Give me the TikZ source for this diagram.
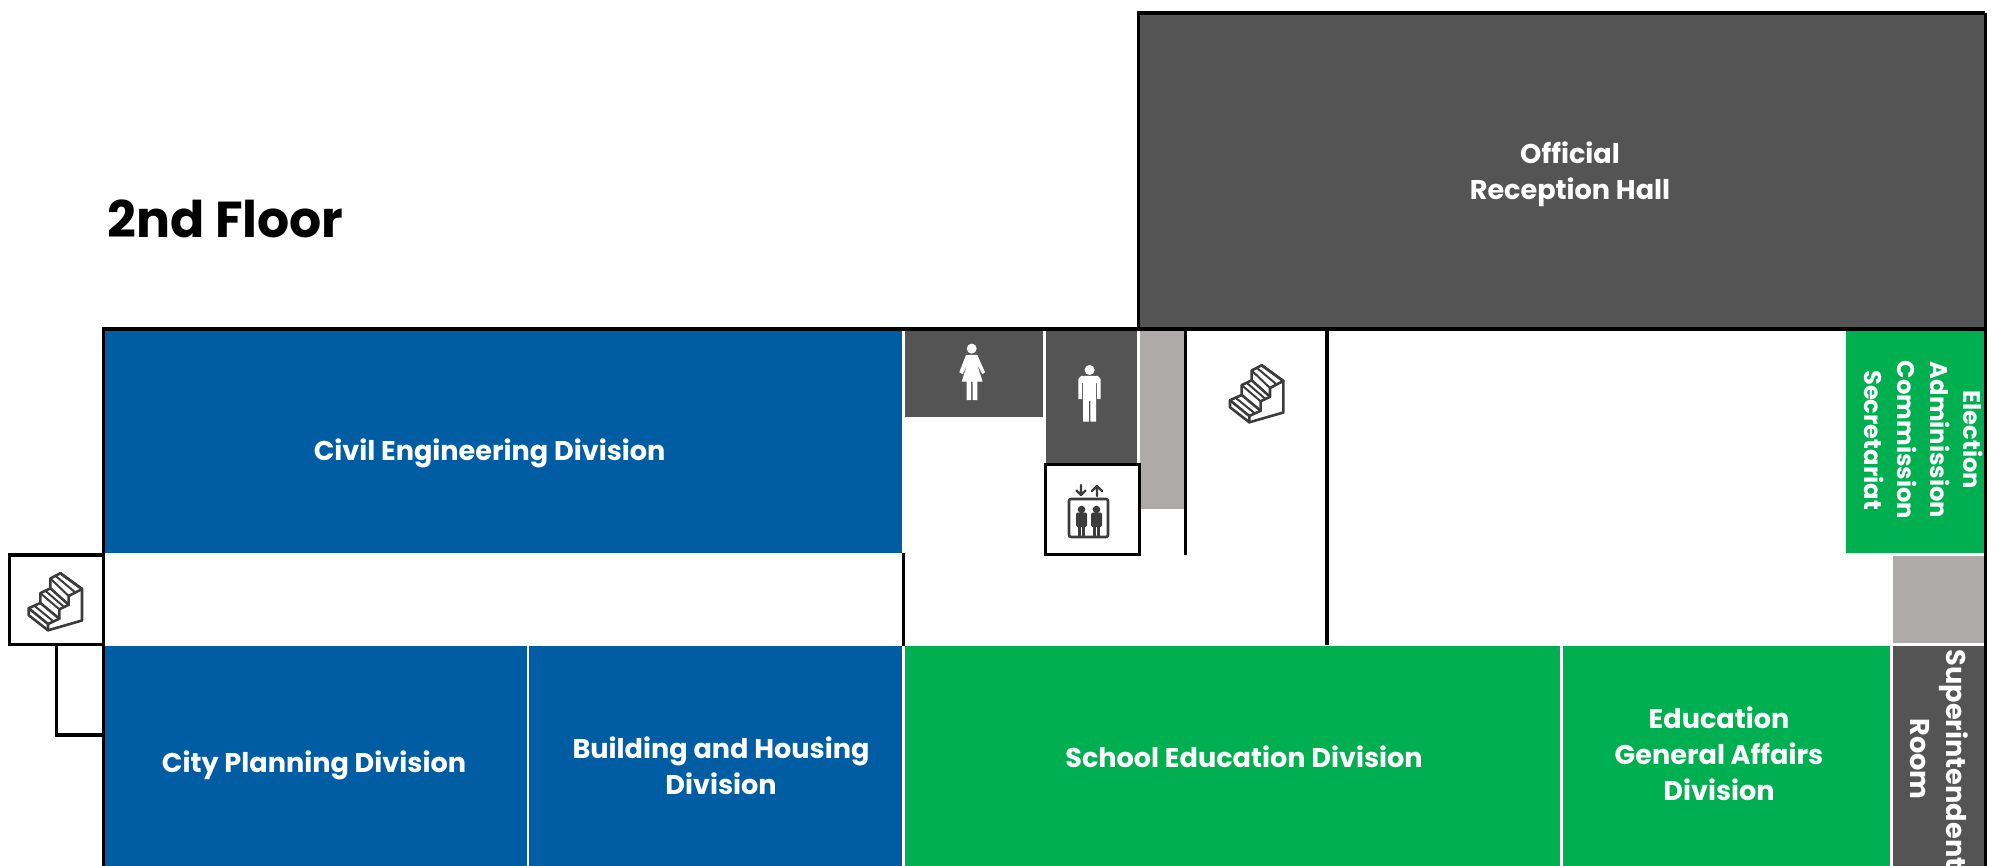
\documentclass[tikz,border=0pt]{standalone}
\usepackage{fontspec}
\setmainfont{Poppins}
\definecolor{cblue}{RGB}{0,93,164}
\definecolor{cgreen}{RGB}{0,176,80}
\definecolor{cdark}{RGB}{84,84,84}
\definecolor{cgrey}{RGB}{174,170,170}
\definecolor{cicon}{RGB}{60,60,60}
\tikzset{
  room/.style={draw=none,inner sep=0pt,outer sep=0pt,anchor=north west},
  bluero/.style={room,fill=cblue},
  greenro/.style={room,fill=cgreen},
  darkro/.style={room,fill=cdark},
  greyro/.style={room,fill=cgrey},
  wall/.style={draw=black,line width=3.4pt,line cap=butt,line join=miter},
  lab/.style={text=white,align=center,inner sep=0pt,font=\fontsize{27.1}{36}\selectfont\bfseries},
  vlab/.style={lab,rotate=-90,font=\fontsize{24.2}{33}\selectfont\bfseries},
  iconline/.style={draw=cicon,line width=2.6pt,line join=round,line cap=round},
  stairs/.pic={
    \begin{scope}[x=0.3333pt,y=-0.35pt]
      \path[iconline] (30,115)--(65,100)--(65,72)--(95,58)--(95,30)--(125,15)--(190,60)--(190,150)--(88,178)--(30,135)--cycle;
      \path[iconline] (30,115)--(88,160)--(88,178);
      \path[iconline] (88,160)--(122,145)--(122,118)--(150,105)--(150,80)--(190,60);
      \path[iconline] (65,100)--(122,145);
      \path[iconline] (95,58)--(150,105);
      \path[iconline] (125,15)--(190,60);
      \path[iconline,line width=2pt] (47,108)--(105,153);
      \path[iconline,line width=2pt] (65,72)--(122,118);
      \path[iconline,line width=2pt] (80,65)--(136,111);
      \path[iconline,line width=2pt] (95,30)--(150,80);
      \path[iconline,line width=2pt] (110,22)--(170,70);
    \end{scope}
  }
}
\begin{document}
\begin{tikzpicture}[x=1pt,y=-1pt]
\useasboundingbox (0,0) rectangle (1994,866);
\clip (0,0) rectangle (1994,866);
% rooms
\node[darkro,minimum width=844pt,minimum height=314pt] (hall) at (1140,14) {};
\node[bluero,minimum width=797pt,minimum height=222pt] (civil) at (105,331) {};
\node[bluero,minimum width=421.5pt,minimum height=220pt] (city) at (105,646) {};
\node[bluero,minimum width=373pt,minimum height=220pt] (building) at (529,646) {};
\node[greenro,minimum width=655pt,minimum height=220pt] (school) at (905,646) {};
\node[greenro,minimum width=327pt,minimum height=220pt] (edu) at (1563,646) {};
\node[darkro,minimum width=91pt,minimum height=220pt] (super) at (1893,646) {};
\node[greenro,minimum width=138pt,minimum height=222pt] (election) at (1846,331) {};
\node[greyro,minimum width=91pt,minimum height=87pt] (shaft) at (1893,556) {};
\node[darkro,minimum width=138pt,minimum height=86pt] (women) at (905,331) {};
\node[darkro,minimum width=91pt,minimum height=132pt] (men) at (1046,331) {};
\node[greyro,minimum width=44pt,minimum height=178pt] (shaftb) at (1140,331) {};
% walls
\draw[wall] (1985.3,13) -- (1138.4,13) -- (1138.4,329);
\draw[wall] (102,329.2) -- (1987,329.2);
\draw[wall] (103.6,329) -- (103.6,866);
\draw[wall] (1985.3,13) -- (1985.3,866);
\draw[wall] (103.6,555) -- (9.7,555) -- (9.7,644.6) -- (103.6,644.6);
\draw[wall] (56.7,644.6) -- (56.7,735) -- (105,735);
\draw[wall] (903.5,553) -- (903.5,646);
\draw[wall] (1185.2,331) -- (1185.2,555);
\draw[wall] (1327,331) -- (1327,645);
\node[draw=black,line width=3.2pt,inner sep=0pt,outer sep=0pt,minimum width=94pt,minimum height=90pt,anchor=north west] (lift) at (1045.2,464.6) {};
% texts
\node[anchor=base west,inner sep=0pt,font=\fontsize{50.5}{52}\selectfont\bfseries] (title) at (107,238) {2nd Floor};
\node[lab] (t1) at (1570,174.5) {Official\\Reception Hall};
\node[lab] (t2) at (489.6,453) {Civil Engineering Division};
\node[lab] (t3) at (314,765) {City Planning Division};
\node[lab] (t4) at (721,766) {Building and Housing\\Division};
\node[lab] (t5) at (1244,756.5) {School Education Division};
\node[lab] (t6) at (1719,754) {Education\\General Affairs\\Division};
\node[vlab] (t7) at (1924,440) {Election\\Adminission\\Commission\\Secretariat};
\node[lab,rotate=-90,font=\fontsize{27.2}{36}\selectfont\bfseries] (t8) at (1939,759) {Superintendent\\Room};
% stairs
\pic at (1220,360) {stairs};
\pic at (18.7,568) {stairs};
% female
\fill[white] (971.7,348.6) circle (5pt);
\fill[white] (966,355) -- (977.3,355) -- (985,372.3) -- (982.3,374.3) -- (976.7,363.3) -- (982.7,381.7) -- (977.3,381.7) -- (977.3,400) -- (972.7,400) -- (972.7,381.7) -- (971,381.7) -- (971,400) -- (966.7,400) -- (966.7,381.7) -- (961.7,381.7) -- (967.3,363.3) -- (962.7,374.3) -- (959.3,372.3) -- cycle;
% male
\fill[white] (1089.6,370) circle (5pt);
\fill[white] (1081,376) -- (1098,376) -- (1100.6,379) -- (1100.6,399) -- (1097,399) -- (1097,383) -- (1096,383) -- (1096,421.5) -- (1090.4,421.5) -- (1090.4,401) -- (1088.8,401) -- (1088.8,421.5) -- (1083.2,421.5) -- (1083.2,383) -- (1082,383) -- (1082,399) -- (1078.4,399) -- (1078.4,379) -- cycle;
% lift icon
\draw[iconline,rounded corners=2pt] (1069,499) rectangle (1108,537);
\draw[iconline,line width=2.2pt] (1081,485) -- (1081,495) (1076.5,490.5) -- (1081,495) -- (1085.5,490.5);
\draw[iconline,line width=2.2pt] (1097,496) -- (1097,486) (1092,491) -- (1097,486) -- (1102,491);
\foreach \px in {1081.5,1096.5}{
  \fill[cicon] (\px,509.5) circle (3.8pt);
  \fill[cicon,rounded corners=1.5pt] (\px-5.5,512.5) rectangle (\px+5.5,527);
  \fill[cicon] (\px-3.8,526) rectangle (\px-0.4,536);
  \fill[cicon] (\px+0.4,526) rectangle (\px+3.8,536);
}
\end{tikzpicture}
\end{document}
